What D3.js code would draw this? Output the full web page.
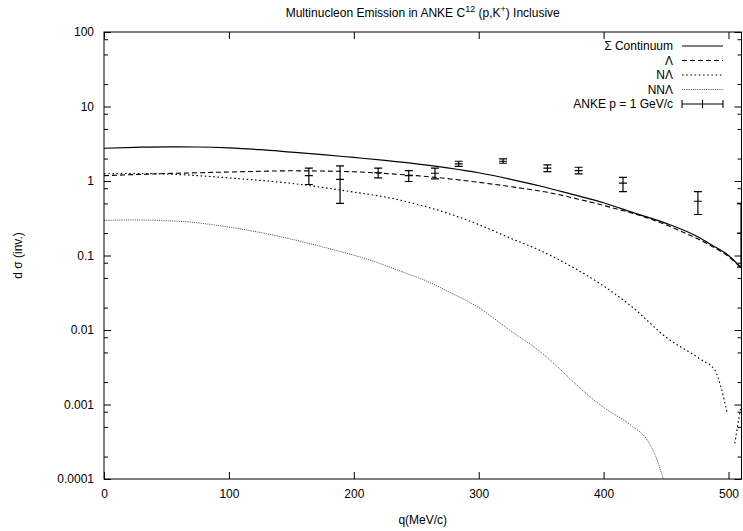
<!DOCTYPE html>
<html>
<head>
<meta charset="utf-8">
<script src="https://cdn.jsdelivr.net/npm/d3@7"></script>
<style>
  body { margin: 0; background: #fff; }
  svg text { font-family: "Liberation Sans", Arial, sans-serif; font-size: 12px; fill: #000; }
  .axis path { display: none; }
  .axis line { stroke: #000; stroke-width: 1; }
</style>
</head>
<body>
<div id="chart"></div>
<script>
// curves as [q (MeV/c), d sigma]
const continuum = [[0,2.75],[25,2.83],[50,2.88],[75,2.86],[100,2.78],[125,2.63],[150,2.44],[175,2.26],[200,2.07],[225,1.89],[250,1.70],[275,1.50],[300,1.29],[325,1.06],[350,0.85],[375,0.66],[400,0.51],[425,0.37],[450,0.27],[475,0.18],[487,0.137],[500,0.10],[511,0.066]];
const lambda = [[0,1.18],[25,1.22],[50,1.26],[75,1.29],[100,1.32],[125,1.35],[150,1.37],[175,1.36],[200,1.33],[229,1.25],[250,1.18],[265,1.12],[300,0.96],[330,0.82],[354,0.71],[380,0.57],[407,0.437],[435,0.32],[461,0.215],[487,0.132],[500,0.097],[511,0.065]];
const nLambda = [[0,1.25],[25,1.26],[50,1.24],[75,1.18],[100,1.1],[125,1.02],[150,0.93],[175,0.82],[200,0.71],[225,0.61],[250,0.49],[275,0.37],[300,0.26],[325,0.172],[350,0.115],[375,0.07],[397,0.042],[423,0.0203],[450,0.008],[477,0.0041],[489,0.0029],[494,0.0017],[499,0.00076],[502,null],[505,0.0003],[510,0.00097]];
const nnLambda = [[0,0.295],[20,0.3],[45,0.295],[70,0.28],[90,0.255],[110,0.226],[130,0.196],[150,0.166],[170,0.137],[185,0.118],[210,0.09],[237,0.062],[260,0.044],[277,0.032],[300,0.02],[325,0.0099],[345,0.0058],[365,0.003],[374,0.00214],[399,0.00094],[423,0.00051],[434,0.00035],[442,0.000196],[448,0.0001],[452,0.00007]];

// ANKE p = 1 GeV/c points
const ankeQ   = [164, 189, 219.5, 244, 265, 284, 319.5, 355, 380, 415.5, 475.5, 510];
const ankeVal = [1.18, 1.05, 1.29, 1.18, 1.27, 1.70, 1.84, 1.49, 1.38, 0.935, 0.535, 0.2];
const ankeLo  = [0.897, 0.5, 1.1, 0.985, 1.07, 1.57, 1.73, 1.34, 1.25, 0.72, 0.355, 0.07];
const ankeHi  = [1.49, 1.6, 1.49, 1.38, 1.49, 1.84, 1.98, 1.65, 1.53, 1.12, 0.72, 0.5];

const xTicks = [0, 100, 200, 300, 400, 500];
const yTicks = [1e-4, 1e-3, 1e-2, 1e-1, 1, 10, 100];
const yTickLabels = ["0.0001", "0.001", "0.01", "0.1", "1", "10", "100"];
const yMinorSteps = [2, 5, 8];

const legendNames = ["\u03A3 Continuum", "\u039B", "N\u039B", "NN\u039B", "ANKE p = 1 GeV/c"];

const W = 743, H = 531;
const margin = { left: 104, right: 741.5, top: 32, bottom: 479 };

const svg = d3.select('#chart').append('svg')
    .attr('width', W)
    .attr('height', H);

const x = d3.scaleLinear().domain([0, 510.4]).range([margin.left, margin.right]);
const y = d3.scaleLog().domain([1e-4, 100]).range([margin.bottom, margin.top]);

const yMinor = [];
yTicks.slice(0, -1).forEach(t => yMinorSteps.forEach(m => yMinor.push(t * m)));

// axes, ticks pointing inwards
svg.append('g').classed('axis', true)
    .attr('transform', `translate(0,${margin.bottom})`)
    .call(d3.axisBottom(x).tickValues(xTicks).tickSize(-7).tickPadding(10).tickFormat(d3.format('d')));
svg.append('g').classed('axis', true)
    .attr('transform', `translate(0,${margin.top})`)
    .call(d3.axisTop(x).tickValues(xTicks).tickSize(-7).tickFormat(''));
svg.append('g').classed('axis', true)
    .attr('transform', `translate(${margin.left},0)`)
    .call(d3.axisLeft(y).tickValues(yTicks).tickSize(-7).tickPadding(10)
        .tickFormat((d, i) => yTickLabels[i]));
svg.append('g').classed('axis', true)
    .attr('transform', `translate(${margin.left},0)`)
    .call(d3.axisLeft(y).tickValues(yMinor).tickSize(-4).tickFormat(''));
svg.append('g').classed('axis', true)
    .attr('transform', `translate(${margin.right},0)`)
    .call(d3.axisRight(y).tickValues(yTicks).tickSize(-7).tickFormat(''));
svg.append('g').classed('axis', true)
    .attr('transform', `translate(${margin.right},0)`)
    .call(d3.axisRight(y).tickValues(yMinor).tickSize(-4).tickFormat(''));

svg.selectAll('.axis text')
    .style('font-size', '12px')
    .style('font-family', '"Liberation Sans", Arial, sans-serif');

// clip region for the curves
svg.append('clipPath').attr('id', 'plotclip')
    .append('rect')
    .attr('x', margin.left).attr('y', margin.top)
    .attr('width', margin.right - margin.left).attr('height', margin.bottom - margin.top);

const plot = svg.append('g').attr('clip-path', 'url(#plotclip)');

const line = d3.line()
    .defined(d => d[1] !== null)
    .x(d => x(d[0]))
    .y(d => y(d[1]))
    .curve(d3.curveMonotoneX);

const series = [
    { data: continuum, dash: null, color: '#000', width: 1.2 },
    { data: lambda, dash: '5,3', color: '#000', width: 1.1 },
    { data: nLambda, dash: '1.6,2.6', color: '#000', width: 1.1 },
    { data: nnLambda, dash: '1,1.2', color: '#444', width: 1 }
];

series.forEach(s => {
    plot.append('path')
        .attr('d', line(s.data))
        .attr('fill', 'none')
        .attr('stroke', s.color)
        .attr('stroke-width', s.width)
        .attr('stroke-dasharray', s.dash);
});

// error bars
const cap = 4;
const bars = plot.selectAll('.ebar')
    .data(ankeQ.map((q, i) => ({ q, v: ankeVal[i], lo: ankeLo[i], hi: ankeHi[i] })))
    .enter()
    .append('g')
    .classed('ebar', true)
    .attr('stroke', '#000')
    .attr('stroke-width', 1.2);
bars.append('line')
    .attr('x1', d => x(d.q)).attr('x2', d => x(d.q))
    .attr('y1', d => y(d.lo)).attr('y2', d => y(d.hi));
bars.append('line')
    .attr('x1', d => x(d.q) - cap).attr('x2', d => x(d.q) + cap)
    .attr('y1', d => y(d.lo)).attr('y2', d => y(d.lo));
bars.append('line')
    .attr('x1', d => x(d.q) - cap).attr('x2', d => x(d.q) + cap)
    .attr('y1', d => y(d.hi)).attr('y2', d => y(d.hi));
bars.append('line')
    .attr('x1', d => x(d.q) - cap).attr('x2', d => x(d.q) + cap)
    .attr('y1', d => y(d.v)).attr('y2', d => y(d.v));

// frame
svg.append('rect')
    .attr('x', margin.left).attr('y', margin.top)
    .attr('width', margin.right - margin.left).attr('height', margin.bottom - margin.top)
    .attr('fill', 'none')
    .attr('stroke', '#000')
    .attr('stroke-width', 1);

// legend
const key = svg.append('g');
const keyY = i => 46 + i * 14.5;
key.selectAll('text')
    .data(legendNames)
    .enter()
    .append('text')
    .attr('x', 673)
    .attr('y', (d, i) => keyY(i) + 4)
    .style('text-anchor', 'end')
    .text(d => d);
series.forEach((s, i) => {
    key.append('line')
        .attr('x1', 682).attr('x2', 723)
        .attr('y1', keyY(i)).attr('y2', keyY(i))
        .attr('stroke', s.color)
        .attr('stroke-width', s.width)
        .attr('stroke-dasharray', s.dash);
});
const ky = keyY(4);
const errKey = key.append('g').attr('stroke', '#000').attr('stroke-width', 1.1);
errKey.append('line').attr('x1', 682).attr('x2', 723).attr('y1', ky).attr('y2', ky);
[682, 702.5, 723].forEach(px => {
    errKey.append('line').attr('x1', px).attr('x2', px).attr('y1', ky - 4).attr('y2', ky + 4);
});

// title with superscripts
const title = svg.append('text')
    .attr('x', (margin.left + margin.right) / 2)
    .attr('y', 17)
    .style('text-anchor', 'middle');
title.append('tspan').text('Multinucleon Emission in ANKE C');
title.append('tspan').attr('dy', -5).style('font-size', '9px').text('12');
title.append('tspan').attr('dy', 5).text(' (p,K');
title.append('tspan').attr('dy', -5).style('font-size', '9px').text('+');
title.append('tspan').attr('dy', 5).text(') Inclusive');

// axis titles
svg.append('text')
    .attr('x', (margin.left + margin.right) / 2)
    .attr('y', 524)
    .style('text-anchor', 'middle')
    .text('q(MeV/c)');
svg.append('text')
    .attr('transform', `translate(22, ${(margin.top + margin.bottom) / 2}) rotate(-90)`)
    .style('text-anchor', 'middle')
    .text('d \u03C3 (inv.)');
</script>
</body>
</html>
